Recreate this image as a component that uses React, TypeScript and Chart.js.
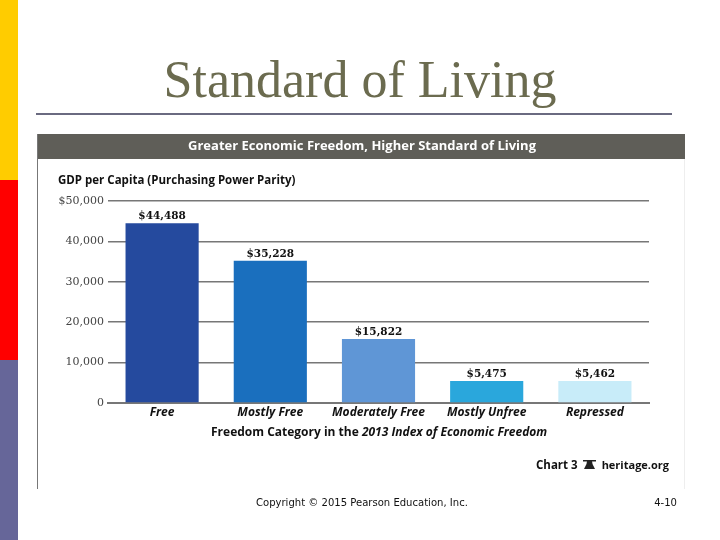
import React, { useEffect, useRef } from 'react';
import { Chart, registerables } from 'chart.js';
import type { Plugin } from 'chart.js';

Chart.register(...registerables);

const categories = ['Free', 'Mostly Free', 'Moderately Free', 'Mostly Unfree', 'Repressed'];
const gdpValues = [44488, 35228, 15822, 5475, 5462];
const barColors = ['#254a9e', '#1a6fbe', '#5f96d6', '#2aa7dc', '#c8ecf9'];
const yTicks = [0, 10000, 20000, 30000, 40000, 50000];

const labelFont = '"Open Sans", "Noto Sans", sans-serif';
const numberFont = '"DejaVu Serif", serif';

// slide furniture and the text chart.js has no slot for
const slidePlugin: Plugin<'bar'> = {
  id: 'slide',
  beforeDraw(chart) {
    const { ctx } = chart;
    ctx.save();
    ctx.fillStyle = '#ffffff';
    ctx.fillRect(0, 0, 720, 540);
    ctx.fillStyle = '#ffcc00';
    ctx.fillRect(0, 0, 18, 180);
    ctx.fillStyle = '#ff0000';
    ctx.fillRect(0, 180, 18, 180);
    ctx.fillStyle = '#666699';
    ctx.fillRect(0, 360, 18, 180);

    ctx.fillStyle = '#6b6b4f';
    ctx.font = '52px "Liberation Serif", serif';
    ctx.textAlign = 'center';
    ctx.textBaseline = 'alphabetic';
    ctx.fillText('Standard of Living', 360, 97);

    ctx.fillStyle = '#6a6a80';
    ctx.fillRect(36, 113, 636, 2);

    ctx.fillStyle = '#5f5e58';
    ctx.fillRect(37, 134, 648, 25);
    ctx.fillStyle = '#777777';
    ctx.fillRect(37, 134, 1, 355);
    ctx.fillStyle = '#eeeeee';
    ctx.fillRect(684, 159, 1, 330);

    ctx.fillStyle = '#ffffff';
    ctx.font = `bold 13px ${labelFont}`;
    ctx.fillText('Greater Economic Freedom, Higher Standard of Living', 362, 150);

    ctx.fillStyle = '#111111';
    ctx.textAlign = 'left';
    ctx.font = `bold 11.5px ${labelFont}`;
    ctx.fillText('GDP per Capita (Purchasing Power Parity)', 58, 184);
    ctx.restore();
  },
  afterDraw(chart) {
    const { ctx } = chart;
    ctx.save();
    ctx.fillStyle = '#111111';
    ctx.textBaseline = 'alphabetic';

    // value labels above the bars
    ctx.textAlign = 'center';
    ctx.font = `bold 10.5px ${numberFont}`;
    chart.getDatasetMeta(0).data.forEach((bar, i) => {
      ctx.fillText(`$${gdpValues[i].toLocaleString('en-US')}`, bar.x, bar.y - 4);
    });

    // axis title, upright then italic
    ctx.textAlign = 'left';
    ctx.font = `bold 12px ${labelFont}`;
    const part1 = 'Freedom Category in the ';
    ctx.fillText(part1, 211, 436);
    const w = ctx.measureText(part1).width;
    ctx.font = `italic bold 12px ${labelFont}`;
    ctx.fillText('2013 Index of Economic Freedom', 211 + w, 436);

    // source line with bell
    ctx.font = `bold 11.5px ${labelFont}`;
    ctx.fillText('Chart 3', 536, 469);
    ctx.textAlign = 'right';
    ctx.font = `bold 11px ${labelFont}`;
    ctx.fillText('heritage.org', 669, 469);
    ctx.fillStyle = '#222222';
    ctx.beginPath();
    ctx.moveTo(584, 469);
    ctx.lineTo(595, 469);
    ctx.lineTo(592.5, 464);
    ctx.lineTo(592, 461);
    ctx.lineTo(587, 461);
    ctx.lineTo(586.5, 464);
    ctx.closePath();
    ctx.fill();
    ctx.fillRect(583, 460, 13, 1.5);

    ctx.fillStyle = '#111111';
    ctx.font = '10.05px "DejaVu Sans", sans-serif';
    ctx.textAlign = 'left';
    ctx.fillText('Copyright © 2015 Pearson Education, Inc.', 256, 506);
    ctx.textAlign = 'right';
    ctx.fillText('4-10', 677, 506);
    ctx.restore();
  },
};

const App: React.FC = () => {
  const canvasRef = useRef<HTMLCanvasElement | null>(null);

  useEffect(() => {
    const canvas = canvasRef.current;
    if (!canvas) return;
    const chart = new Chart(canvas, {
      type: 'bar',
      data: {
        labels: categories,
        datasets: [
          {
            data: gdpValues,
            backgroundColor: barColors,
            categoryPercentage: 1,
            barPercentage: 0.676,
          },
        ],
      },
      options: {
        responsive: false,
        animation: false,
        layout: { padding: { top: 201, right: 71, left: 0, bottom: 0 } },
        plugins: {
          legend: { display: false },
          title: { display: false },
          tooltip: { enabled: false },
        },
        scales: {
          x: {
            afterFit(axis) {
              axis.height = 137;
            },
            grid: { display: false, drawTicks: false },
            border: { color: '#777777', width: 2 },
            ticks: {
              color: '#111111',
              padding: 2,
              font: { family: labelFont, size: 12, style: 'italic', weight: 'bold' },
            },
          },
          y: {
            min: 0,
            max: 50000,
            afterFit(axis) {
              axis.width = 108;
            },
            afterBuildTicks(axis) {
              axis.ticks = yTicks.map((value) => ({ value }));
            },
            grid: { color: '#777777', lineWidth: 1.5, drawTicks: false },
            border: { display: false },
            ticks: {
              color: '#444444',
              padding: 4,
              font: { family: numberFont, size: 11 },
              callback: (v) => (v === 50000 ? '$50,000' : Number(v).toLocaleString('en-US')),
            },
          },
        },
      },
      plugins: [slidePlugin],
    });
    return () => chart.destroy();
  }, []);

  return (
    <div style={{ position: 'fixed', left: 0, top: 0, width: 720, height: 540 }}>
      <canvas ref={canvasRef} width={720} height={540} style={{ display: 'block' }} />
    </div>
  );
};

export default App;
